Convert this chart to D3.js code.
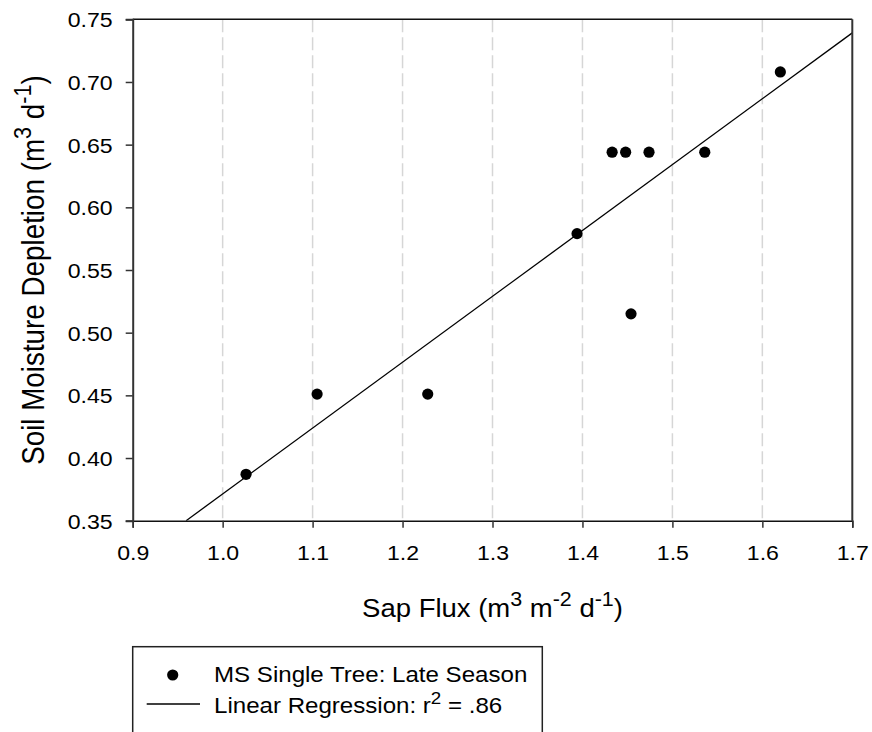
<!DOCTYPE html>
<html>
<head>
<meta charset="utf-8">
<script src="https://cdn.jsdelivr.net/npm/d3@7"></script>
<style>
  body { margin: 0; background: #fff; }
  text { font-family: "Liberation Sans", Arial, sans-serif; fill: #000; }
</style>
</head>
<body>
<script>
// values
var sapFlux = [1.026, 1.105, 1.228, 1.394, 1.433, 1.448, 1.474, 1.454, 1.536, 1.620];
var depletion = [0.387, 0.451, 0.451, 0.579, 0.644, 0.644, 0.644, 0.515, 0.644, 0.708];
var xTicks = [0.9, 1.0, 1.1, 1.2, 1.3, 1.4, 1.5, 1.6, 1.7];
var yTicks = [0.35, 0.40, 0.45, 0.50, 0.55, 0.60, 0.65, 0.70, 0.75];
var gridTicks = [1.0, 1.1, 1.2, 1.3, 1.4, 1.5, 1.6];
var legendLabels = ["MS Single Tree: Late Season", "Linear Regression: r", " = .86"];

var width = 872, height = 732;
var margin = { left: 132.7, top: 19.3, right: 19.7, bottom: 211.3 };
var w = width - margin.left - margin.right;
var h = height - margin.top - margin.bottom;
var stretch = 1.1;

var svg = d3.select("body").append("svg")
  .attr("width", width)
  .attr("height", height);

var x = d3.scaleLinear().domain([0.9, 1.7]).range([0, w]);
var y = d3.scaleLinear().domain([0.35, 0.75]).range([h, 0]);

var g = svg.append("g")
  .attr("transform", "translate(" + margin.left + "," + margin.top + ")");

g.append("clipPath").attr("id", "plot")
  .append("rect").attr("width", w).attr("height", h);

// dashed vertical grid
g.selectAll(".grid")
  .data(gridTicks)
  .enter()
  .append("line")
  .attr("class", "grid")
  .attr("x1", function(d) { return x(d); })
  .attr("x2", function(d) { return x(d); })
  .attr("y1", 0)
  .attr("y2", h)
  .attr("stroke", "#d6d6d6")
  .attr("stroke-width", 1.5)
  .attr("stroke-dasharray", "13,5");

// regression from the points
var mx = d3.mean(sapFlux), my = d3.mean(depletion);
var sxy = d3.sum(sapFlux, function(v, i) { return (v - mx) * (depletion[i] - my); });
var sxx = d3.sum(sapFlux, function(v) { return (v - mx) * (v - mx); });
var slope = sxy / sxx;
var icpt = my - slope * mx;
var x0 = (0.35 - icpt) / slope, x1 = 1.7;

g.append("line")
  .attr("clip-path", "url(#plot)")
  .attr("x1", x(x0)).attr("y1", y(slope * x0 + icpt))
  .attr("x2", x(x1)).attr("y2", y(slope * x1 + icpt))
  .attr("stroke", "#000")
  .attr("stroke-width", 1.3);

// frame
g.append("line").attr("x1", 0).attr("x2", w).attr("y1", 0).attr("y2", 0)
  .attr("stroke", "#111").attr("stroke-width", 1.5);
g.append("line").attr("x1", w).attr("x2", w).attr("y1", 0).attr("y2", h)
  .attr("stroke", "#333").attr("stroke-width", 2);

var xAxis = g.append("g")
  .attr("transform", "translate(0," + h + ")")
  .call(d3.axisBottom(x).tickValues(xTicks).tickFormat(d3.format(".1f")).tickSizeOuter(0).tickSize(7));
var yAxis = g.append("g")
  .call(d3.axisLeft(y).tickValues(yTicks).tickFormat(d3.format(".2f")).tickSizeOuter(0).tickSize(7));

[xAxis, yAxis].forEach(function(a) {
  a.select(".domain").attr("stroke", "#333").attr("stroke-width", 2);
  a.selectAll(".tick line").attr("stroke", "#333").attr("stroke-width", 1.5);
  a.selectAll(".tick text").attr("font-size", 21).attr("font-family", null);
});
xAxis.select(".domain").attr("stroke", "#111").attr("stroke-width", 1.5);

xAxis.selectAll(".tick text")
  .attr("y", 0).attr("dy", 0)
  .attr("transform", "translate(0,39.3) scale(" + stretch + ",1)");
yAxis.selectAll(".tick text")
  .attr("x", 0).attr("dy", "0.36em")
  .attr("transform", "translate(-20,0) scale(" + stretch + ",1)");

// axis titles with superscripts
function addParts(text, parts, size) {
  parts.forEach(function(p) {
    if (p[1]) {
      text.append("tspan").attr("font-size", size * 0.78).attr("dy", -size * 0.42).text(p[0]);
    } else {
      text.append("tspan").attr("font-size", size).attr("dy", p[2] || 0).text(p[0]);
    }
  });
}

var xs = 25;
var xTitle = svg.append("text")
  .attr("text-anchor", "middle")
  .attr("transform", "translate(" + (margin.left + w / 2) + ",616.7) scale(" + stretch + ",1)");
addParts(xTitle, [["Sap Flux (m"], ["3", 1], [" m", 0, xs * 0.42], ["-2", 1], [" d", 0, xs * 0.42], ["-1", 1], [")", 0, xs * 0.42]], xs);

var ys = 27.8;
var yTitle = svg.append("text")
  .attr("text-anchor", "middle")
  .attr("transform", "translate(44," + (margin.top + h / 2) + ") scale(" + stretch + ",1) rotate(-90)");
addParts(yTitle, [["Soil Moisture Depletion (m"], ["3", 1], [" d", 0, ys * 0.42], ["-1", 1], [")", 0, ys * 0.42]], ys);

// points
g.selectAll(".dot")
  .data(sapFlux)
  .enter()
  .append("circle")
  .attr("class", "dot")
  .attr("cx", function(d) { return x(d); })
  .attr("cy", function(d, i) { return y(depletion[i]); })
  .attr("r", 5.6)
  .attr("fill", "#000");

// legend
var leg = svg.append("g");
leg.append("rect")
  .attr("x", 132.7).attr("y", 646.7)
  .attr("width", 409.6).attr("height", 100)
  .attr("fill", "#fff").attr("stroke", "#222").attr("stroke-width", 1.5);
leg.append("circle").attr("cx", 172.7).attr("cy", 675).attr("r", 5.6).attr("fill", "#000");
leg.append("line").attr("x1", 146.7).attr("x2", 200).attr("y1", 704).attr("y2", 704)
  .attr("stroke", "#000").attr("stroke-width", 1.3);

var ls = 21.9;
leg.append("text")
  .attr("transform", "translate(214,682.3) scale(" + stretch + ",1)")
  .attr("font-size", ls)
  .text(legendLabels[0]);
var l2 = leg.append("text")
  .attr("transform", "translate(214,713.3) scale(" + stretch + ",1)");
addParts(l2, [[legendLabels[1]], ["2", 1], [legendLabels[2], 0, ls * 0.42]], ls);
</script>
</body>
</html>
